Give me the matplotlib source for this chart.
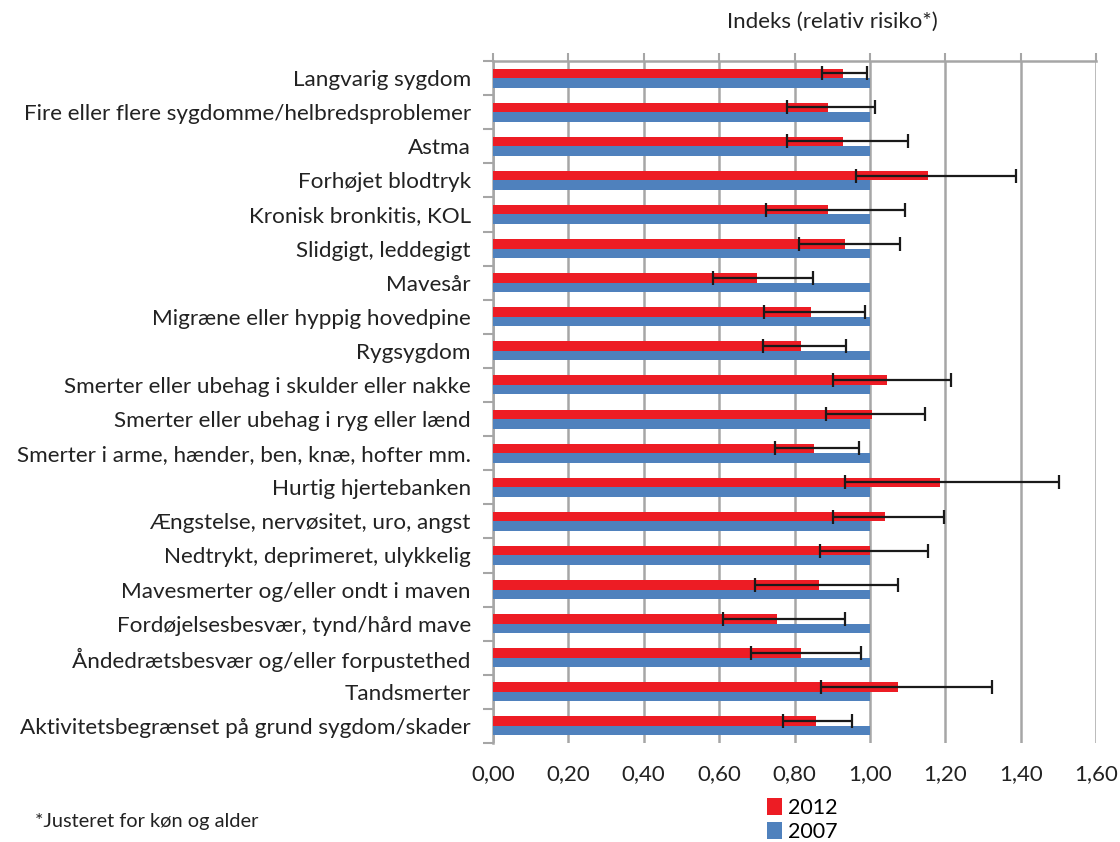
import numpy as np
import matplotlib
matplotlib.use("Agg")
import matplotlib.pyplot as plt

plt.rcParams['font.family'] = ['Lato', 'DejaVu Sans']

# categories, top to bottom
categories = [
    "Langvarig sygdom",
    "Fire eller flere sygdomme/helbredsproblemer",
    "Astma",
    "Forhøjet blodtryk",
    "Kronisk bronkitis, KOL",
    "Slidgigt, leddegigt",
    "Mavesår",
    "Migræne eller hyppig hovedpine",
    "Rygsygdom",
    "Smerter eller ubehag i skulder eller nakke",
    "Smerter eller ubehag i ryg eller lænd",
    "Smerter i arme, hænder, ben, knæ, hofter mm.",
    "Hurtig hjertebanken",
    "Ængstelse, nervøsitet, uro, angst",
    "Nedtrykt, deprimeret, ulykkelig",
    "Mavesmerter og/eller ondt i maven",
    "Fordøjelsesbesvær, tynd/hård mave",
    "Åndedrætsbesvær og/eller forpustethed",
    "Tandsmerter",
    "Aktivitetsbegrænset på grund sygdom/skader",
]

val_2012 = [0.93, 0.89, 0.93, 1.155, 0.89, 0.935, 0.70, 0.843, 0.818, 1.046,
            1.006, 0.853, 1.185, 1.04, 1.00, 0.864, 0.754, 0.818, 1.074, 0.856]
low_2012 = [0.872, 0.78, 0.781, 0.963, 0.725, 0.811, 0.583, 0.719, 0.716, 0.901,
            0.884, 0.748, 0.935, 0.903, 0.868, 0.696, 0.609, 0.685, 0.869, 0.769]
high_2012 = [0.993, 1.014, 1.102, 1.387, 1.093, 1.08, 0.848, 0.987, 0.937, 1.215,
             1.146, 0.972, 1.502, 1.196, 1.153, 1.074, 0.935, 0.977, 1.325, 0.953]
val_2007 = [1.0] * 20

xticks = [0.0, 0.2, 0.4, 0.6, 0.8, 1.0, 1.2, 1.4, 1.6]

red = '#ED1C24'
blue = '#4F81BD'
grey = '#A6A6A6'

fig = plt.figure(figsize=(11.2, 8.42), dpi=100)
ax = fig.add_axes([493 / 1120, 1 - 743 / 842, (1096 - 493) / 1120, (743 - 61) / 842])

n = len(categories)
y = np.arange(n)[::-1].astype(float)
h = 0.28

v12 = np.array(val_2012)
err = [v12 - np.array(low_2012), np.array(high_2012) - v12]

b12 = ax.barh(y + h / 2, v12, height=h, color=red, zorder=3, label='2012')
b07 = ax.barh(y - h / 2, val_2007, height=h, color=blue, zorder=3, label='2007')
ax.errorbar(v12, y + h / 2, xerr=err, fmt='none', ecolor='#1a1a1a',
            elinewidth=1.6, capsize=5, capthick=1.6, zorder=4)

ax.set_xlim(0, 1.6)
ax.set_ylim(-0.5, n - 0.5)
ax.set_xticks(xticks)
ax.set_xticklabels([f"{t:.2f}".replace('.', ',') for t in xticks], fontsize=16, color='#222222')
ax.tick_params(axis='x', top=True, bottom=False, labeltop=False, labelbottom=True,
               direction='out', length=6, width=1.5, color=grey, pad=9)
ax.grid(axis='x', color=grey, linewidth=1.8, zorder=0)

ax.set_yticks(y)
ax.set_yticklabels(categories, fontsize=16.2, color='#222222')
ax.set_yticks(np.arange(n + 1) - 0.5, minor=True)
ax.tick_params(axis='y', which='major', length=0, pad=16)
ax.tick_params(axis='y', which='minor', length=7, width=1.5, color=grey)

for s in ['right', 'bottom']:
    ax.spines[s].set_visible(False)
for s in ['top', 'left']:
    ax.spines[s].set_color(grey)
    ax.spines[s].set_linewidth(1.8)

fig.text(832 / 1120, 1 - 22 / 842, "Indeks (relativ risiko*)", ha='center', va='center',
         fontsize=16, color='#222222')
fig.text(35 / 1120, 1 - 822 / 842, "*Justeret for køn og alder", ha='left', va='center',
         fontsize=14.4, color='#222222')

fig.legend(handles=[b12, b07], loc='upper left', bbox_to_anchor=(756 / 1120, 1 - 787 / 842),
           frameon=False, fontsize=15.5, handlelength=0.7, handleheight=0.8,
           handletextpad=0.3, labelspacing=0.2, borderpad=0)

fig.savefig('out.png', dpi=100)
